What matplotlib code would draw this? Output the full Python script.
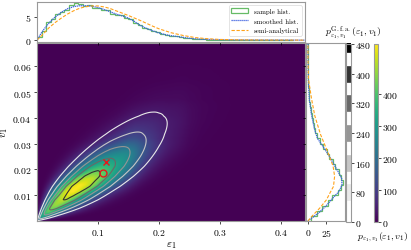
import numpy as np
import matplotlib
matplotlib.use('Agg')
import matplotlib.pyplot as plt
from math import erf, sqrt

plt.rcParams.update({
    'font.family': 'serif',
    'font.serif': ['cmr10'],
    'mathtext.fontset': 'cm',
    'axes.formatter.use_mathtext': True,
    'font.size': 7,
})

# ---------------- data ----------------
# top marginal: smoothed histogram of eps1
eps_s = [0, 0.005, 0.01, 0.02, 0.03, 0.04, 0.05, 0.06, 0.07, 0.08, 0.09, 0.10, 0.11,
         0.12, 0.13, 0.14, 0.15, 0.16, 0.17, 0.18, 0.19, 0.20, 0.21, 0.22, 0.23, 0.24,
         0.25, 0.27, 0.29, 0.32, 0.36, 0.44]
f_eps_s = [0, 1.1, 2.1, 3.75, 5.0, 6.0, 6.75, 7.2, 7.4, 7.4, 7.3, 7.0, 6.6,
           6.1, 5.6, 5.2, 4.75, 4.0, 3.15, 2.5, 2.0, 1.55, 1.2, 0.95, 0.78, 0.6,
           0.4, 0.2, 0.12, 0.05, 0.02, 0.0]
# top marginal: semi-analytical
eps_o = [0, 0.01, 0.02, 0.03, 0.04, 0.05, 0.06, 0.07, 0.08, 0.09, 0.10, 0.11, 0.12,
         0.13, 0.14, 0.15, 0.16, 0.17, 0.18, 0.19, 0.20, 0.22, 0.24, 0.26, 0.28, 0.30,
         0.33, 0.37, 0.44]
f_eps_o = [0, 1.3, 2.7, 3.8, 4.75, 5.6, 6.3, 6.85, 7.2, 7.35, 7.35, 7.15, 6.8,
           6.3, 5.8, 5.3, 4.75, 4.2, 3.6, 3.0, 2.45, 1.6, 1.0, 0.55, 0.3, 0.15,
           0.06, 0.02, 0.0]
# top marginal: sample histogram (bin width 0.0075)
eps_bin_w = 0.0075
f_eps_hist = [0.6, 2.0, 3.9, 4.5, 5.6, 6.0, 6.5, 7.6, 8.0, 7.7, 7.3, 7.5, 7.0, 7.0,
              6.4, 6.4, 5.7, 5.3, 5.4, 4.8, 4.6, 3.7, 3.3, 2.6, 2.4, 1.9, 1.7, 1.3,
              1.2, 0.9, 0.85, 0.6, 0.5, 0.4, 0.25, 0.2, 0.15, 0.1, 0.1, 0.05,
              0.05, 0.04, 0.03, 0.03, 0.02, 0.02, 0.02, 0.01, 0.01, 0.01, 0.01, 0.01,
              0.01, 0.01, 0.01, 0.0]

# right marginal: smoothed histogram of v1
v_s = [0, 0.0015, 0.0035, 0.006, 0.009, 0.0115, 0.014, 0.0165, 0.019, 0.0225, 0.026,
       0.029, 0.032, 0.0355, 0.041, 0.047, 0.055, 0.063, 0.069]
f_v_s = [0, 7, 16, 25, 34, 42, 46, 45.5, 41, 34, 27, 20, 13, 9, 5, 2, 0.6, 0.2, 0.1]
# right marginal: semi-analytical
v_o = [0, 0.0023, 0.005, 0.0082, 0.011, 0.0134, 0.0173, 0.0212, 0.0251, 0.0297,
       0.0336, 0.0407, 0.0473, 0.055, 0.063, 0.069]
f_v_o = [0, 7, 16, 25, 30, 34.5, 36, 34, 29, 22.5, 17, 9.4, 5, 0.8, 0.2, 0.1]
# right marginal: sample histogram (bin width 0.002)
v_bin_w = 0.002
f_v_hist = [4.5, 12, 19, 27, 33, 40, 45, 47.5, 44, 42, 36, 34, 28, 26, 20, 16.5, 12,
            10, 8, 6.5, 5, 4, 3, 2, 1.6, 1.1, 0.8, 0.6, 0.4, 0.3, 0.2, 0.15, 0.1,
            0.1, 0.05]

# dependence between eps1 and v1 (Gaussian-copula correlation)
rho_sample = 0.81
rho_gfa = 0.825

# markers
cross_pt = (0.1134, 0.0229)
circle_pt = (0.1086, 0.0188)

contour_levels = [0, 80, 160, 240, 320, 400, 480]
eps_lim = (0.0, 0.44)
v_lim = (0.0, 0.069)

# ---------------- density fields ----------------
ne, nv = 440, 345
de = (eps_lim[1] - eps_lim[0]) / ne
dv = (v_lim[1] - v_lim[0]) / nv
eg = eps_lim[0] + de * (np.arange(ne) + 0.5)
vg = v_lim[0] + dv * (np.arange(nv) + 0.5)

zt = np.linspace(-7.5, 7.5, 3001)
Phi = 0.5 * (1 + np.array([erf(z / sqrt(2)) for z in zt]))


def probit(F):
    F = np.clip(F, 1e-11, 1 - 1e-11)
    lo = np.interp(F, Phi, zt)
    hi = -np.interp(1 - F, Phi, zt)
    return np.where(F < 0.5, lo, hi)


def marg(grid, xs, fs):
    fine = np.linspace(0, grid[-1] + (grid[1] - grid[0]), 4000)
    ff = np.interp(fine, xs, fs)
    F = np.concatenate([[0], np.cumsum((ff[1:] + ff[:-1]) / 2 * np.diff(fine))])
    tot = F[-1]
    return np.interp(grid, xs, fs) / tot, np.interp(grid, fine, F) / tot


def copula_density(xs1, f1s, xs2, f2s, rho):
    f1, F1 = marg(eg, xs1, f1s)
    f2, F2 = marg(vg, xs2, f2s)
    z1 = probit(F1)[None, :]
    z2 = probit(F2)[:, None]
    q = (rho ** 2 * (z1 ** 2 + z2 ** 2) - 2 * rho * z1 * z2) / (2 * (1 - rho ** 2))
    c = np.exp(-q) / np.sqrt(1 - rho ** 2)
    return c * f1[None, :] * f2[:, None]


P_sample = copula_density(eps_s, f_eps_s, v_s, f_v_s, rho_sample)
P_gfa = copula_density(eps_o, f_eps_o, v_o, f_v_o, rho_gfa) + 1e-6

# ---------------- figure ----------------
W, H = 411, 251
fig = plt.figure(figsize=(W / 100, H / 100), dpi=100)


def ax_px(x0, y0, x1, y1):
    return fig.add_axes([x0 / W, 1 - y1 / H, (x1 - x0) / W, (y1 - y0) / H])


ax = ax_px(37, 44, 305, 222)
axt = ax_px(37, 3, 305, 43)
axr = ax_px(306, 44, 345, 222)
cax_g = ax_px(346, 45, 351, 223)
cax_v = ax_px(374, 45, 378, 223)

spine_c = '0.6'
green = '#66bb66'
blue = '#3a5ee0'
orange = '#ffa31a'

im = ax.imshow(P_sample, extent=[eps_lim[0], eps_lim[1], v_lim[0], v_lim[1]],
               origin='lower', aspect='auto', cmap='viridis', interpolation='bilinear',
               vmin=0)
CS = ax.contour(eg, vg, P_gfa, levels=contour_levels, cmap='Greys', linewidths=0.8)
ax.plot([cross_pt[0]], [cross_pt[1]], marker='x', color='#e41a1c', ms=5, mew=1.0, ls='none')
ax.plot([circle_pt[0]], [circle_pt[1]], marker='o', mfc='none', mec='#e41a1c', ms=5,
        mew=1.0, ls='none')
ax.set_xlim(*eps_lim)
ax.set_ylim(*v_lim)
ax.set_xticks([0.1, 0.2, 0.3, 0.4])
ax.set_yticks([0.01, 0.02, 0.03, 0.04, 0.05, 0.06])
ax.set_xlabel(r'$\varepsilon_1$', fontsize=8, labelpad=2)
ax.set_ylabel(r'$v_1$', fontsize=8, labelpad=2)

# top marginal
edges_e = np.arange(len(f_eps_hist) + 1) * eps_bin_w
axt.hist(edges_e[:-1], bins=edges_e, weights=f_eps_hist, histtype='step', color=green,
         lw=0.9, label='sample hist.')
axt.plot(eps_s, f_eps_s, color=blue, ls=(0, (1, 0.6)), lw=0.9, label='smoothed hist.')
axt.plot(eps_o, f_eps_o, color=orange, ls=(0, (3, 1.5)), lw=0.8, label='semi-analytical')
axt.set_xlim(*eps_lim)
axt.set_ylim(-0.4, 8.2)
axt.set_yticks([0, 5])
axt.set_xticks([0.1, 0.2, 0.3, 0.4])
axt.tick_params(labelbottom=False)
leg = axt.legend(loc='upper right', fontsize=5, handlelength=2.4, borderaxespad=0.5,
                 labelspacing=0.5, framealpha=1)
leg.get_frame().set_edgecolor('0.85')
leg.get_frame().set_linewidth(0.5)

# right marginal
edges_v = np.arange(len(f_v_hist) + 1) * v_bin_w
axr.hist(edges_v[:-1], bins=edges_v, weights=f_v_hist, histtype='step', color=green,
         lw=0.9, orientation='horizontal')
axr.plot(f_v_s, v_s, color=blue, ls=(0, (1, 0.6)), lw=0.9)
axr.plot(f_v_o, v_o, color=orange, ls=(0, (3, 1.5)), lw=0.8)
axr.set_ylim(*v_lim)
axr.set_xlim(-2.5, 50)
axr.set_xticks([0, 25])
axr.set_yticks([0.01, 0.02, 0.03, 0.04, 0.05, 0.06])
axr.tick_params(labelleft=False)

for a in (ax, axt, axr):
    for s in a.spines.values():
        s.set_edgecolor(spine_c)
        s.set_linewidth(0.8)
    a.tick_params(labelsize=7, length=2.5, width=0.5, pad=1.5)

# colorbars
cb_g = fig.colorbar(CS, cax=cax_g)
for lc in cb_g.lines:
    lc.set_linewidth(12)
cb_g.outline.set_edgecolor(spine_c)
cb_g.outline.set_linewidth(0.8)
cb_g.ax.tick_params(labelsize=7, length=2, width=0.5, pad=1)

cb_v = fig.colorbar(im, cax=cax_v)
cb_v.set_ticks([0, 100, 200, 300, 400])
cb_v.outline.set_edgecolor(spine_c)
cb_v.outline.set_linewidth(0.8)
cb_v.ax.tick_params(labelsize=7, length=2, width=0.5, pad=1)

fig.text(353 / W, 1 - 33 / H, r'$p^{\mathrm{G.f.a.}}_{\varepsilon_1,v_1}(\varepsilon_1,v_1)$',
         ha='center', va='center', fontsize=7)
fig.text(383 / W, 1 - 237 / H, r'$p_{\varepsilon_1,v_1}(\varepsilon_1,v_1)$',
         ha='center', va='center', fontsize=7)

fig.savefig('out.png', dpi=100)
